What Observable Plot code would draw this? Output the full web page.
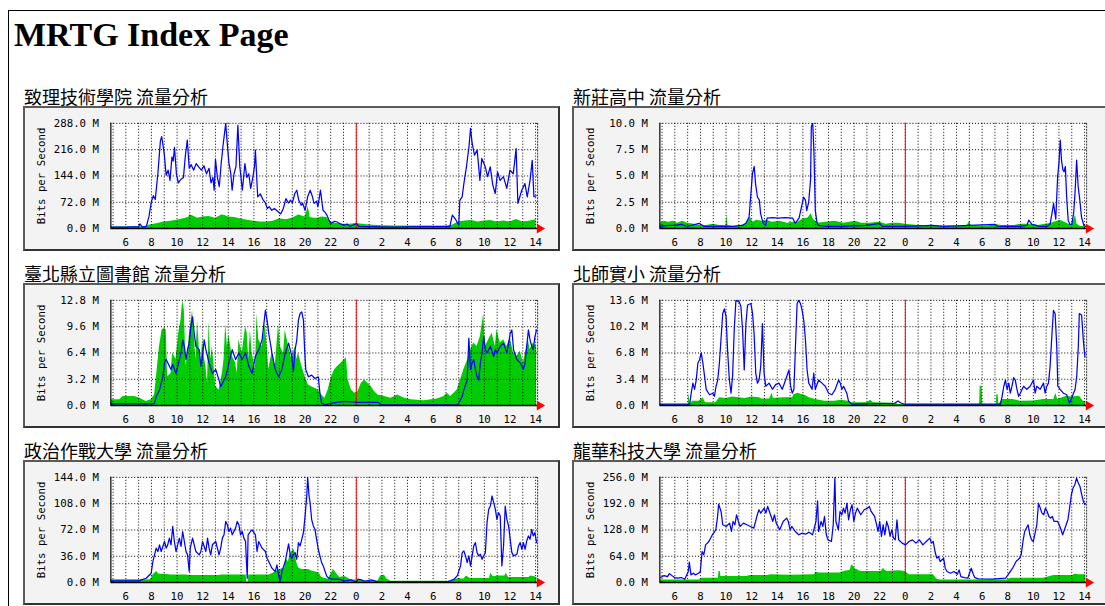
<!DOCTYPE html>
<html><head><meta charset="utf-8">
<script src="https://cdn.jsdelivr.net/npm/d3@7"></script>
<script src="https://cdn.jsdelivr.net/npm/@observablehq/plot@0.6"></script>
<style>
html,body{margin:0;padding:0;width:1105px;height:606px;overflow:hidden;background:#fff;}
#frame{position:absolute;left:8px;top:10px;width:1200px;height:700px;border:1px solid #000;}
h1{position:absolute;left:14px;top:18px;margin:0;font:bold 34px/34px "Liberation Serif",serif;color:#000;}
.t{position:absolute;font:18px/20px "Noto Sans CJK TC",sans-serif;white-space:nowrap;color:#000;}
.box{position:absolute;width:537px;height:145px;box-sizing:border-box;background:#f3f3f3;border:2px solid #5a5a5a;border-right-color:#333;border-bottom-color:#333;}
.box svg{position:absolute;left:-2px;top:-2px;}
</style></head><body>
<div id="frame"></div>
<h1>MRTG Index Page</h1>
<div id="root"></div>
<script>
// ---------- data ----------
const panelTitles = ["致理技術學院 流量分析","新莊高中 流量分析","臺北縣立圖書館 流量分析","北師實小 流量分析","政治作戰大學 流量分析","龍華科技大學 流量分析"];
const evenHours = [6,8,10,12,14,16,18,20,22,24,26,28,30,32,34,36,38];
const allHours = [5,6,7,8,9,10,11,12,13,14,15,16,17,18,19,20,21,22,23,24,25,26,27,28,29,30,31,32,33,34,35,36,37,38];
const midnight = [24];

const p1Ticks = [0,72,144,216,288];
const p2Ticks = [0,2.5,5,7.5,10];
const p3Ticks = [0,3.2,6.4,9.6,12.8];
const p4Ticks = [0,3.4,6.8,10.2,13.6];
const p5Ticks = [0,36,72,108,144];
const p6Ticks = [0,64,128,192,256];

const p1Out = [[4.85,4],[6,4],[7,5],[7.1,13],[7.3,4],[7.6,6],[7.8,32],[8,75],[8.15,90],[8.3,80],[8.5,150],[8.7,240],[8.8,252],[9,205],[9.15,146],[9.3,160],[9.45,132],[9.6,196],[9.7,185],[9.8,222],[9.95,150],[10.1,125],[10.3,135],[10.5,140],[10.65,200],[10.8,242],[10.95,165],[11.1,175],[11.3,160],[11.5,178],[11.7,168],[11.9,160],[12.1,172],[12.3,150],[12.5,165],[12.65,125],[12.8,140],[12.9,105],[13,190],[13.15,140],[13.3,115],[13.45,180],[13.6,230],[13.8,288],[13.95,220],[14.05,180],[14.2,150],[14.3,105],[14.45,150],[14.6,170],[14.75,283],[14.9,170],[15.1,105],[15.3,178],[15.45,140],[15.6,150],[15.75,110],[15.9,137],[16.05,170],[16.12,215],[16.25,120],[16.3,87],[16.5,95],[16.7,80],[16.9,70],[17.05,55],[17.2,60],[17.4,50],[17.6,55],[17.9,46],[18.1,40],[18.3,55],[18.5,82],[18.7,70],[18.85,78],[19,70],[19.2,96],[19.35,105],[19.5,78],[19.7,64],[19.8,70],[20,50],[20.2,87],[20.4,105],[20.55,90],[20.7,69],[20.9,75],[21,60],[21.2,105],[21.4,50],[21.55,45],[21.7,37],[21.85,25],[22,14],[22.3,20],[22.5,18],[22.8,12],[23,9],[23.3,12],[23.5,6],[23.8,10],[24,14],[24.2,6],[25,5],[27,4],[29,5],[31.3,5],[31.5,37],[31.76,25],[32,9],[32.09,78],[32.27,87],[32.4,123],[32.6,169],[32.8,224],[32.92,274],[33.05,233],[33.23,201],[33.44,215],[33.65,132],[33.8,192],[34.07,169],[34.25,142],[34.46,169],[34.66,119],[34.85,96],[35.03,155],[35.23,132],[35.49,142],[35.75,110],[36,160],[36.26,150],[36.48,219],[36.62,69],[36.92,105],[37.17,123],[37.35,87],[37.56,130],[37.74,187],[37.87,87],[38.05,90]];
const p1In = [[4.85,4],[7.5,5],[7.8,9],[8.2,12],[8.5,14],[9,18],[9.5,20],[10,23],[10.5,27],[10.9,30],[11,38],[11.3,34],[11.6,28],[12,32],[12.5,33],[13,28],[13.5,37],[13.8,35],[14,32],[14.5,30],[15,26],[15.5,23],[16,20],[16.5,18],[17,18],[17.5,20],[18,27],[18.5,24],[19,28],[19.5,37],[20,32],[20.25,60],[20.4,30],[20.7,28],[21,28],[21.3,32],[21.7,30],[22,18],[22.5,14],[23,12],[23.5,12],[24,14],[25,10],[26,8],[27,7],[29,7],[31,7],[31.5,9],[32,18],[32.5,21],[33,22],[33.5,18],[34,21],[34.5,22],[35,18],[35.5,21],[36,18],[36.5,25],[37,18],[37.5,20],[38.05,24]];

const p2Out = [[4.85,0.2],[5.5,0.3],[6,0.3],[6.5,0.4],[7,0.2],[7.9,0.5],[8.3,0.2],[9.5,0.2],[10.5,0.2],[11.3,0.3],[11.55,0.5],[11.8,1.1],[12.06,5.2],[12.2,5.9],[12.3,4.3],[12.45,3.0],[12.6,2.7],[12.7,1.4],[12.9,0.5],[13.1,0.3],[13.2,1.0],[13.6,1.05],[14.1,1.0],[14.6,1.05],[15.2,1.0],[15.4,0.5],[15.7,1.0],[15.9,2.1],[16.05,3.0],[16.2,2.7],[16.3,1.7],[16.45,2.5],[16.6,4.6],[16.66,9.7],[16.77,10],[16.87,7.1],[16.97,1.7],[17.1,0.6],[17.2,0.3],[17.75,0.2],[19,0.2],[21,0.3],[22,0.5],[22.2,0.2],[24,0.2],[26.1,0.3],[27,0.2],[31,0.4],[31.2,0.2],[33,0.2],[33.5,0.3],[33.64,0.8],[33.9,0.4],[34.5,0.2],[35.06,0.2],[35.3,0.4],[35.45,1.4],[35.58,2.4],[35.75,0.9],[35.9,5.0],[36,6.2],[36.1,8.4],[36.2,6.5],[36.3,5.6],[36.4,5.4],[36.5,5.9],[36.6,3.0],[36.72,0.8],[36.85,0.4],[37,0.4],[37.15,1.5],[37.25,3.3],[37.38,6.5],[37.5,4.0],[37.63,2.7],[37.76,1.1],[37.94,0.3],[38.1,0.2]];
const p2In = [[4.85,0.5],[5.2,0.7],[5.5,0.6],[5.9,0.7],[6.2,0.5],[6.6,0.7],[7,0.5],[7.5,0.4],[8,0.3],[8.5,0.3],[9,0.4],[9.5,0.3],[10,0.3],[10.05,1.3],[10.15,0.3],[10.6,0.2],[11.2,0.3],[11.6,0.5],[11.9,1.1],[12.1,0.6],[12.4,0.8],[12.8,0.7],[13.2,0.8],[13.6,0.6],[14.2,0.7],[14.8,0.5],[15.2,0.6],[15.6,0.6],[16,0.9],[16.4,1.0],[16.65,1.4],[16.8,0.9],[17.2,0.5],[17.75,0.6],[18.5,0.7],[19.2,0.5],[20.1,0.7],[20.6,0.5],[21.2,0.5],[22,0.6],[22.5,0.4],[23,0.5],[23.5,0.5],[24,0.4],[25,0.3],[26,0.25],[28.8,0.25],[29.05,0.7],[29.15,0.25],[30.5,0.25],[31,0.4],[31.5,0.3],[32.5,0.3],[33,0.4],[33.9,0.4],[34.4,0.3],[34.9,0.4],[35.4,0.5],[36.1,0.8],[36.6,0.5],[37,0.3],[37.3,1.3],[37.4,0.4],[37.7,0.2],[38.1,0.2]];

const p3Out = [[4.85,0.2],[8.11,0.2],[8.24,0.3],[8.37,1.1],[8.63,1.9],[8.89,3.5],[9.02,5.2],[9.15,5.6],[9.4,4.8],[9.53,4.4],[9.66,5.0],[9.92,3.9],[10.18,5.6],[10.31,6.4],[10.44,8.0],[10.57,7.2],[10.7,5.6],[10.82,6.8],[10.95,7.6],[11.08,9.6],[11.21,10.8],[11.34,8.8],[11.47,7.2],[11.73,6.8],[11.86,4.8],[11.99,6.0],[12.12,8.0],[12.25,6.8],[12.5,5.2],[12.76,3.9],[13.02,4.4],[13.28,3.1],[13.41,2.3],[13.54,2.7],[13.8,3.5],[14.05,5.2],[14.31,6.8],[14.57,5.6],[14.83,6.4],[15.09,5.6],[15.35,6.4],[15.6,4.8],[15.86,3.9],[16.12,6.0],[16.38,6.8],[16.64,8.0],[16.9,11.6],[17.03,10.4],[17.16,8.8],[17.41,6.4],[17.67,4.4],[17.93,3.5],[18.19,4.4],[18.45,6.4],[18.71,7.6],[18.96,6.0],[19.09,4.2],[19.22,6.8],[19.35,8.0],[19.48,10.4],[19.61,11.2],[19.74,11.4],[19.87,10.4],[19.95,7.2],[20.05,4.4],[20.26,3.5],[20.51,3.7],[20.77,3.3],[21.03,3.5],[21.16,1.5],[21.29,0.3],[21.55,0.1],[22.06,0.3],[23.1,0.5],[24.13,0.4],[25.68,0.4],[25.94,0.1],[31.88,0.1],[32,0.3],[32.27,1.1],[32.4,1.9],[32.66,3.1],[32.79,8.2],[32.92,4.4],[33.05,5.2],[33.17,5.6],[33.3,4.4],[33.43,3.5],[33.56,3.1],[33.69,5.2],[33.82,6.4],[33.95,8.4],[34.08,6.8],[34.21,6.4],[34.47,7.2],[34.73,6.0],[34.86,6.8],[34.98,6.4],[35.24,7.2],[35.5,7.6],[35.76,6.4],[36.02,8.8],[36.15,9.2],[36.28,6.8],[36.54,5.6],[36.8,5.2],[37.05,4.4],[37.18,5.2],[37.44,9.2],[37.57,8.0],[37.7,7.2],[37.82,6.8],[37.95,8.4],[38.08,9.2]];
const p3In = [[4.85,0.7],[5.53,0.7],[5.79,1.1],[6.69,1.1],[7.08,0.9],[7.6,0.5],[7.98,0.7],[8.24,1.3],[8.37,3.1],[8.5,5.2],[8.63,7.2],[8.83,9.2],[9.02,9.4],[9.15,9.2],[9.27,3.5],[9.53,3.9],[9.66,6.4],[9.92,5.6],[10.13,8.8],[10.31,10.4],[10.44,12.8],[10.57,11.6],[10.7,4.8],[10.82,6.0],[10.95,8.4],[11.08,10.0],[11.21,11.6],[11.34,8.8],[11.47,5.6],[11.6,10.4],[11.73,7.2],[11.86,4.8],[11.99,8.0],[12.12,6.0],[12.25,4.8],[12.38,2.7],[12.5,10.2],[12.63,5.6],[12.76,7.2],[12.89,4.8],[13.02,2.3],[13.28,1.9],[13.54,3.9],[13.67,5.6],[13.8,10.0],[13.93,7.2],[14.05,8.6],[14.31,6.0],[14.57,5.2],[14.7,3.9],[14.83,8.0],[15.09,6.4],[15.35,9.6],[15.48,8.8],[15.6,5.6],[15.73,9.2],[15.86,6.4],[16.12,4.4],[16.25,11.2],[16.38,8.0],[16.64,7.2],[16.9,10.0],[17.16,4.4],[17.41,6.4],[17.67,4.8],[17.93,10.0],[18.06,7.2],[18.32,6.4],[18.45,9.2],[18.71,7.2],[18.96,5.6],[19.22,7.2],[19.35,5.6],[19.48,6.4],[19.74,4.8],[20,3.5],[20.26,2.5],[20.51,2.3],[20.77,2.1],[21.03,1.9],[21.29,1.3],[21.55,0.9],[21.8,1.9],[22.06,3.5],[22.32,4.4],[22.58,4.8],[22.84,5.2],[23.1,5.6],[23.23,5.8],[23.36,3.1],[23.62,1.9],[23.87,1.5],[24.13,1.7],[24.39,2.7],[24.65,3.1],[24.91,2.7],[25.17,2.3],[25.42,1.7],[25.68,1.3],[26.2,1.1],[26.72,0.9],[27.23,1.3],[27.75,0.9],[28.27,0.7],[29.3,0.6],[30.33,0.8],[30.85,1.1],[31.11,1.5],[31.37,1.1],[31.63,1.5],[31.88,1.9],[32.14,3.1],[32.4,4.4],[32.66,5.4],[32.92,6.8],[33.17,7.6],[33.43,7.2],[33.69,8.4],[33.95,11.2],[34.08,7.2],[34.34,8.0],[34.6,8.8],[34.86,7.2],[34.98,9.2],[35.24,7.6],[35.5,8.0],[35.76,7.2],[36.02,8.2],[36.28,6.4],[36.54,6.0],[36.8,6.6],[37.05,5.2],[37.31,7.2],[37.44,8.0],[37.57,6.8],[37.82,7.6],[38.08,7.2]];

const p4Out = [[4.85,0.2],[7.16,0.2],[7.28,1.6],[7.41,2.9],[7.54,2.1],[7.67,3.3],[7.8,5.5],[7.93,5.9],[8.06,6.8],[8.19,5.5],[8.32,3.8],[8.45,2.1],[8.71,1.4],[8.96,1.6],[9.09,1.2],[9.22,2.5],[9.35,3.3],[9.48,5.5],[9.74,11.9],[9.87,12.5],[10,11.5],[10.13,6.8],[10.26,3.3],[10.39,1.6],[10.51,3.8],[10.64,9.8],[10.77,13.6],[11.03,13.4],[11.16,12.8],[11.29,9.8],[11.42,4.6],[11.55,10.6],[11.68,13.0],[11.94,13.2],[12.07,11.9],[12.19,9.3],[12.32,4.2],[12.45,2.9],[12.58,3.3],[12.71,5.1],[12.84,10.6],[12.97,4.2],[13.1,2.5],[13.36,2.9],[13.62,2.1],[13.87,2.7],[14.13,2.9],[14.39,2.1],[14.65,3.3],[14.91,4.6],[15.04,2.5],[15.17,1.6],[15.3,2.1],[15.42,7.6],[15.55,13.2],[15.68,13.6],[15.81,13.2],[15.94,12.3],[16.07,11.0],[16.2,8.5],[16.33,4.6],[16.46,2.9],[16.72,2.1],[16.85,4.2],[16.97,2.1],[17.23,3.3],[17.49,2.9],[17.75,2.5],[18.01,1.6],[18.27,1.4],[18.53,2.1],[18.79,3.3],[18.92,2.9],[19.05,2.1],[19.18,2.5],[19.43,1.6],[19.56,0.6],[19.82,0.2],[23.17,0.3],[23.43,0.6],[23.69,0.3],[23.94,0.2],[31.43,0.2],[31.56,1.2],[31.69,2.5],[31.82,3.3],[31.95,2.1],[32.08,2.9],[32.2,1.6],[32.33,2.5],[32.46,3.6],[32.59,3.3],[32.72,2.1],[32.85,1.2],[32.98,1.6],[33.24,2.5],[33.49,2.1],[33.75,2.5],[34.01,3.3],[34.14,1.6],[34.27,2.5],[34.53,2.1],[34.79,2.9],[34.92,1.6],[35.05,2.5],[35.18,2.9],[35.31,5.1],[35.44,8.9],[35.57,12.3],[35.7,11.9],[35.83,7.6],[35.91,2.5],[36.09,2.1],[36.35,1.6],[36.61,1.4],[36.82,0.3],[37,1.0],[37.26,2.1],[37.39,3.8],[37.51,7.6],[37.59,11.9],[37.77,11.7],[37.9,8.5],[38.03,6.3]];
const p4In = [[4.85,0.1],[7.05,0.1],[7.1,1.6],[7.2,0.2],[7.4,0.55],[7.9,0.55],[8.2,1.0],[8.4,0.35],[9.2,0.35],[9.5,1.0],[10,0.9],[10.5,1.1],[11,1.0],[11.5,0.9],[12,1.1],[12.6,1.0],[12.8,0.85],[13.4,0.85],[13.6,1.6],[13.7,0.9],[14.5,1.0],[15.2,1.0],[15.3,1.4],[15.6,1.6],[16,1.4],[16.2,1.3],[16.5,1.0],[17,0.8],[17.7,0.55],[18.5,0.55],[19,0.7],[19.5,0.55],[19.8,0.35],[21,0.35],[21.3,0.7],[21.5,0.35],[23.2,0.3],[23.5,0.13],[29.8,0.13],[29.85,2.5],[30,2.5],[30.05,0.13],[31.1,0.13],[31.15,1.4],[31.25,1.4],[31.3,0.13],[31.6,0.8],[32.4,0.8],[33,0.55],[34,0.6],[34.8,0.8],[35.6,0.8],[35.75,1.6],[35.9,0.8],[36.6,1.2],[37,1.1],[37.6,1.2],[37.9,0.55],[38.1,0.5]];

const p5Out = [[4.85,2.3],[7.08,2.3],[7.21,3.7],[7.59,5.9],[7.98,12.8],[8.11,28.8],[8.24,37.9],[8.37,47.1],[8.5,42.5],[8.63,51.7],[8.76,42.5],[8.89,49.4],[9.02,56.2],[9.15,47.1],[9.27,51.7],[9.4,60.8],[9.53,51.7],[9.66,76.8],[9.79,56.2],[9.92,42.5],[10.05,51.7],[10.18,60.8],[10.31,49.4],[10.44,69.9],[10.57,56.2],[10.7,42.5],[10.82,37.9],[10.95,15.1],[11.03,47.1],[11.21,60.8],[11.34,51.7],[11.47,42.5],[11.73,37.9],[11.86,42.5],[11.99,56.2],[12.25,42.5],[12.38,60.8],[12.5,47.1],[12.63,37.9],[12.76,51.7],[13.02,56.2],[13.28,37.9],[13.41,47.1],[13.54,60.8],[13.67,65.4],[13.8,83.7],[13.93,79.1],[14.05,69.9],[14.18,74.5],[14.31,65.4],[14.57,74.5],[14.7,83.7],[14.83,79.1],[14.96,65.4],[15.09,69.9],[15.22,60.8],[15.35,56.2],[15.48,5.9],[15.55,65.4],[15.73,69.9],[15.86,72.2],[16.12,65.4],[16.25,42.5],[16.38,56.2],[16.64,47.1],[16.9,42.5],[17.03,33.4],[17.16,28.8],[17.41,19.7],[17.67,15.1],[17.8,24.2],[17.93,10.5],[18.06,1.4],[18.19,15.1],[18.45,28.8],[18.71,53],[18.84,37.9],[18.96,33],[19.09,38],[19.22,41],[19.35,31.9],[19.48,54.7],[19.61,50.1],[19.74,59.2],[19.87,68.4],[20,91.1],[20.13,118.5],[20.2,144],[20.31,118.5],[20.39,109.4],[20.51,86.6],[20.64,77.5],[20.77,72.9],[20.9,59.2],[21.03,45.6],[21.16,36.5],[21.29,27.3],[21.42,22.8],[21.55,15.9],[21.68,9.1],[21.8,6.8],[22.06,4.6],[22.58,4.6],[23.1,2.3],[23.62,3.6],[24,0.5],[24.13,4.6],[24.39,3.6],[24.65,1.8],[25.17,3.6],[25.68,0.9],[31.11,0.9],[31.37,2.7],[31.63,4.6],[31.88,9.1],[32.14,22.8],[32.27,41],[32.4,43.3],[32.53,36.5],[32.66,27.3],[32.79,36.5],[32.92,22.8],[33.05,36.5],[33.17,50.1],[33.3,54.7],[33.43,41],[33.56,36.5],[33.69,38.7],[33.82,31.9],[33.95,36.5],[34.08,41],[34.21,82],[34.34,100.3],[34.47,104.8],[34.6,118.5],[34.73,109.4],[34.86,100.3],[34.98,86.6],[35.11,95.7],[35.24,91.1],[35.37,22.8],[35.5,50.1],[35.63,104.8],[35.76,86.6],[35.89,77.5],[36.02,59.2],[36.15,41],[36.28,36.5],[36.54,38.7],[36.67,50.1],[36.8,54.7],[36.93,45.6],[37.05,54.7],[37.18,45.6],[37.31,57],[37.44,63.8],[37.57,59.2],[37.7,72.9],[37.82,63.8],[37.95,68.4],[38.08,54.7]];
const p5In = [[4.85,3.7],[7.9,3.7],[8,6],[8.1,10],[8.4,15],[8.6,11.5],[9.1,11.5],[9.5,10.5],[10.7,10.5],[11,9.6],[13.3,9.6],[13.5,10.5],[15.4,10.5],[15.45,0],[15.55,0],[15.6,10.5],[17.2,10.5],[17.5,12.8],[17.9,17],[18.2,19],[18.4,19],[18.5,33],[18.7,28],[18.8,37],[18.95,42],[19.1,46],[19.2,42],[19.35,27],[19.5,20],[19.75,18],[20.3,18],[20.5,16],[21,13.7],[21.16,11.4],[21.29,6.8],[21.8,4.6],[22.1,13.7],[22.2,18.2],[22.5,11.4],[22.7,6.8],[23.1,8.2],[23.6,3.6],[24.1,3.6],[24.65,2.3],[25.7,2.3],[25.9,9.1],[26.2,10],[26.4,4.6],[26.7,1.8],[31.4,1.8],[31.6,3.6],[32,5.5],[32.4,4.6],[32.6,9.1],[32.9,5.5],[34.4,5.5],[34.5,12.8],[34.7,8],[35.1,9.1],[35.6,9],[35.7,12.7],[35.9,7],[37.5,7],[37.6,9.1],[37.85,8.2],[38.1,6.8]];

const p6Out = [[4.89,12.2],[5.16,17.1],[5.43,14.6],[5.57,21.9],[5.7,18.7],[5.97,12.2],[6.24,10.6],[6.51,12.2],[6.78,8.1],[7.05,26.8],[7.13,49.6],[7.26,18.7],[7.45,22.8],[7.59,18.7],[7.86,22.8],[7.99,26.8],[8.13,75.6],[8.26,67.5],[8.4,91.8],[8.66,100],[8.93,116.2],[9.2,128.4],[9.34,160.9],[9.42,191],[9.61,173.1],[9.74,140.6],[10.01,136.5],[10.28,144.7],[10.42,124.3],[10.55,148.7],[10.69,140.6],[10.82,165],[10.96,148.7],[11.09,136.5],[11.36,144.7],[11.63,140.6],[11.9,136.5],[12.17,132.5],[12.44,165],[12.57,177.2],[12.71,169],[12.98,181.2],[13.11,169],[13.25,185.3],[13.52,160.9],[13.65,148.7],[13.78,165],[13.92,144.7],[14.19,128.4],[14.46,148.7],[14.73,156.9],[14.86,148.7],[15,128.4],[15.13,136.5],[15.4,124.3],[15.68,116.2],[15.95,120.3],[16.22,117.8],[16.48,122.7],[16.75,116.2],[16.89,132.5],[17.02,148.7],[17.15,199.1],[17.23,124.3],[17.42,148.7],[17.56,136.5],[17.69,160.9],[17.83,116.2],[17.96,104],[18.23,100],[18.37,140.6],[18.5,256],[18.58,148.7],[18.77,128.4],[18.9,173.1],[19.04,165],[19.17,181.2],[19.3,169],[19.44,193.4],[19.57,152.8],[19.71,177.2],[19.84,189.4],[19.98,148.7],[20.11,169],[20.25,181.2],[20.52,165],[20.79,177.2],[21.06,181.2],[21.19,185.3],[21.33,173.1],[21.6,160.9],[21.73,144.7],[21.87,124.3],[22,148.7],[22.14,112.2],[22.27,140.6],[22.4,116.2],[22.54,148.7],[22.67,136.5],[22.81,112.2],[22.94,128.4],[23.08,108.1],[23.21,104],[23.35,152.8],[23.48,104],[23.62,100],[23.75,95.9],[24.02,91.8],[24.29,100],[24.56,104],[24.83,95.9],[25.1,104],[25.37,91.8],[25.64,100],[25.91,108.1],[26.05,95.9],[26.18,100],[26.32,75.6],[26.45,59.3],[26.59,63.4],[26.72,51.2],[26.99,59.3],[27.12,34.9],[27.26,26.8],[27.53,22.8],[27.8,26.8],[28.07,20.3],[28.2,30.9],[28.34,14.6],[28.61,12.2],[28.88,10.6],[29.01,22.8],[29.15,34.9],[29.28,22.8],[29.42,12.2],[29.69,8.9],[30.77,8.1],[31.84,10.6],[32.11,22.8],[32.38,34.9],[32.65,51.2],[32.92,59.3],[33.05,67.5],[33.19,100],[33.32,124.3],[33.59,140.6],[33.73,116.2],[33.86,104],[34,100],[34.27,140.6],[34.4,193.4],[34.54,181.2],[34.67,169],[34.81,165],[34.94,181.2],[35.08,173.1],[35.21,160.9],[35.35,156.9],[35.48,160.9],[35.62,148.7],[35.89,148.7],[36.02,140.6],[36.16,128.4],[36.29,116.2],[36.43,128.4],[36.56,140.6],[36.7,152.8],[36.83,181.2],[36.97,213.7],[37.1,230],[37.24,238.1],[37.37,254.4],[37.51,242.2],[37.64,234.1],[37.78,213.7],[37.91,197.5],[38.04,189.4]];
const p6In = [[4.85,6.5],[7.95,6.5],[8,8.9],[8.1,10.6],[9.4,10.6],[9.45,27],[9.55,27],[9.6,14.6],[11.6,14.6],[11.9,17],[13.25,17],[13.5,19],[15,18],[16.9,19],[17,25],[17.3,23],[18.9,23],[19.2,27],[19.7,30],[19.8,43],[19.95,40],[20.1,33],[20.25,31],[20.5,27],[22.1,27],[22.3,35],[22.4,30],[22.6,27],[23.5,29],[24,27],[24.3,19],[26.2,19],[26.45,8.9],[26.7,6.5],[32,6.5],[32.1,8.9],[32.3,10.6],[34.8,10.6],[35.3,14.6],[35.6,17],[37.1,17],[37.2,20.3],[37.6,19],[38.1,19]];

// ---------- layout ----------
const panels = [
  {title: panelTitles[0], inData: p1In, outData: p1Out, ticks: p1Ticks, left: 23, top: 106},
  {title: panelTitles[1], inData: p2In, outData: p2Out, ticks: p2Ticks, left: 572, top: 106},
  {title: panelTitles[2], inData: p3In, outData: p3Out, ticks: p3Ticks, left: 23, top: 283},
  {title: panelTitles[3], inData: p4In, outData: p4Out, ticks: p4Ticks, left: 572, top: 283},
  {title: panelTitles[4], inData: p5In, outData: p5Out, ticks: p5Ticks, left: 23, top: 460},
  {title: panelTitles[5], inData: p6In, outData: p6Out, ticks: p6Ticks, left: 572, top: 460}
];

const X0 = 4.83, X1 = 38.16;
const hx = d => d[0], vy = d => d[1];

function mrtg(p) {
  const max = p.ticks[p.ticks.length - 1];
  return Plot.plot({
    width: 537, height: 145,
    marginLeft: 88, marginRight: 19, marginTop: 17, marginBottom: 22,
    x: {domain: [X0, X1], axis: null},
    y: {domain: [0, max], axis: null},
    style: {background: "transparent", fontFamily: "DejaVu Sans Mono", fontSize: "10.8px", color: "#000", overflow: "visible"},
    marks: [
      Plot.frame({fill: "white", stroke: null}),
      Plot.areaY(p.inData, {x: hx, y: vy, fill: "#00cc00", clip: true}),
      Plot.ruleX(allHours, {stroke: "#000", strokeDasharray: "1,2", strokeWidth: 1}),
      Plot.ruleY(p.ticks.slice(1), {stroke: "#000", strokeDasharray: "1,2", strokeWidth: 1}),
      Plot.ruleX([X1], {stroke: "#333", strokeDasharray: "2,1"}),
      Plot.ruleX(midnight, {stroke: "#ff0000", strokeWidth: 1}),
      Plot.line(p.outData, {x: hx, y: vy, stroke: "#0000ff", strokeWidth: 1.25, clip: true}),
      Plot.ruleX([X0], {stroke: "#000", strokeWidth: 1.2}),
      Plot.ruleY([0], {stroke: "#000", strokeWidth: 1.4}),
      Plot.dot([[X1, 0]], {x: hx, y: vy, symbol: "triangle", r: 3.6, fill: "#ff0000", stroke: null, rotate: 90, dx: 2}),
      Plot.axisX({ticks: evenHours, tickFormat: d => String(d % 24), tickSize: 0, tickPadding: 10, label: null}),
      Plot.axisY({ticks: p.ticks, tickFormat: v => v.toFixed(1) + " M", tickSize: 0, tickPadding: 12, label: null}),
      Plot.text(["Bits per Second"], {frameAnchor: "left", dx: -70, rotate: -90, textAnchor: "middle", lineAnchor: "middle"})
    ]
  });
}

const root = document.getElementById("root");
for (const p of panels) {
  const t = document.createElement("div");
  t.className = "t";
  t.style.left = (p.left + 1) + "px";
  t.style.top = (p.top - 20) + "px";
  t.textContent = p.title;
  root.appendChild(t);
  const box = document.createElement("div");
  box.className = "box";
  box.style.left = p.left + "px";
  box.style.top = p.top + "px";
  box.appendChild(mrtg(p));
  root.appendChild(box);
}
</script>
</body></html>
